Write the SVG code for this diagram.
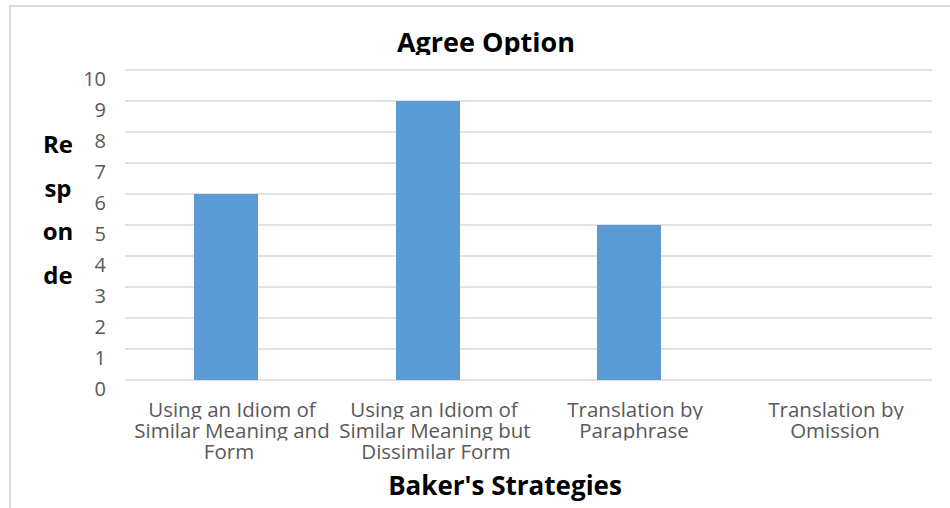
<svg xmlns="http://www.w3.org/2000/svg" width="950" height="508" viewBox="0 0 950 508">
<style>
.grid{stroke:#d9d9d9;stroke-width:1.5;fill:none}
.bar{fill:#5b9bd5}
.tick{font-family:"Open Sans","Liberation Sans",sans-serif;font-size:20px;fill:#595959;text-anchor:end}
.cat{font-family:"Open Sans","Liberation Sans",sans-serif;font-size:20.5px;fill:#595959;text-anchor:middle}
.bold{font-family:"Open Sans","Liberation Sans",sans-serif;font-weight:bold;fill:#000;text-anchor:middle}
</style>
<defs>
<clipPath id="cl1"><rect x="0" y="390" width="950" height="29.5"/></clipPath>
<clipPath id="cl2"><rect x="0" y="419.5" width="950" height="21"/></clipPath>
<clipPath id="clt"><rect x="0" y="15" width="950" height="40"/></clipPath>
<clipPath id="clx"><rect x="0" y="460" width="950" height="41"/></clipPath>
</defs>
<rect x="0" y="0" width="950" height="508" fill="#fff"/>
<path d="M10,508 V6 H950" stroke="#d9d9d9" stroke-width="2" fill="none"/>
<g id="gridlines">
<path class="grid" d="M125,70H932M125,101H932M125,132H932M125,163H932M125,194H932M125,225H932M125,256H932M125,287H932M125,318H932M125,349H932M125,380H932"/>
</g>
<g id="ticks">
<text class="tick" x="106" y="86">10</text>
<text class="tick" x="106" y="117">9</text>
<text class="tick" x="106" y="148">8</text>
<text class="tick" x="106" y="179">7</text>
<text class="tick" x="106" y="210">6</text>
<text class="tick" x="106" y="241">5</text>
<text class="tick" x="106" y="272">4</text>
<text class="tick" x="106" y="303">3</text>
<text class="tick" x="106" y="334">2</text>
<text class="tick" x="106" y="365">1</text>
<text class="tick" x="106" y="396">0</text>
</g>
<g id="bar1"><rect class="bar" x="194" y="194" width="64" height="186"/></g>
<g id="bar2"><rect class="bar" x="396" y="101" width="64" height="279"/></g>
<g id="bar3"><rect class="bar" x="597" y="225" width="64" height="155"/></g>
<g id="cat1">
<text class="cat" x="232" y="417" clip-path="url(#cl1)">Using an Idiom of</text>
<text class="cat" x="232" y="438" clip-path="url(#cl2)">Similar Meaning and</text>
<text class="cat" x="229" y="459">Form</text>
</g>
<g id="cat2">
<text class="cat" x="434" y="417" clip-path="url(#cl1)">Using an Idiom of</text>
<text class="cat" x="435" y="438" clip-path="url(#cl2)">Similar Meaning but</text>
<text class="cat" x="436" y="459">Dissimilar Form</text>
</g>
<g id="cat3">
<text class="cat" x="635" y="417" clip-path="url(#cl1)">Translation by</text>
<text class="cat" x="634" y="438" clip-path="url(#cl2)">Paraphrase</text>
</g>
<g id="cat4">
<text class="cat" x="836" y="417" clip-path="url(#cl1)">Translation by</text>
<text class="cat" x="835" y="438" clip-path="url(#cl2)">Omission</text>
</g>
<g id="title"><text class="bold" x="486" y="52" font-size="27" clip-path="url(#clt)">Agree Option</text></g>
<g id="ytitle">
<text class="bold" x="58" y="153" font-size="24">Re</text>
<text class="bold" x="58" y="197" font-size="24">sp</text>
<text class="bold" x="58" y="240" font-size="24">on</text>
<text class="bold" x="58" y="284" font-size="24">de</text>
</g>
<g id="xtitle"><text class="bold" x="505" y="495" font-size="26" clip-path="url(#clx)">Baker's Strategies</text></g>
</svg>
